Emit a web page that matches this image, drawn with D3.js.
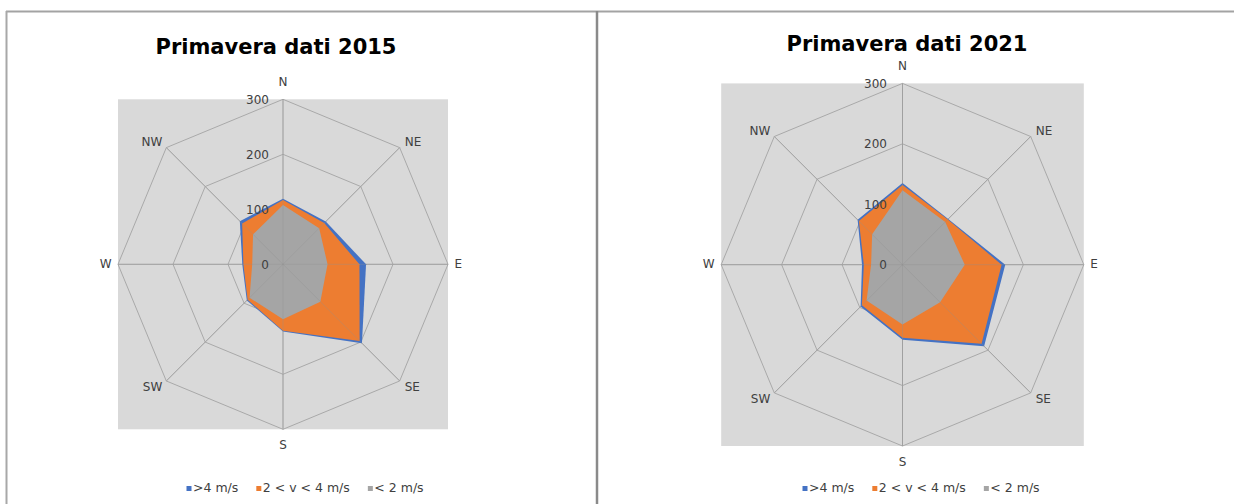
<!DOCTYPE html>
<html>
<head>
<meta charset="utf-8">
<script src="https://cdn.jsdelivr.net/npm/d3@7"></script>
<style>
  html, body { margin: 0; padding: 0; background: #ffffff; }
  svg { display: block; }
  text { font-family: "DejaVu Sans", Verdana, sans-serif; }
</style>
</head>
<body>
<svg id="chart" width="1234" height="504"></svg>
<script>
// Wind directions (categories) and radial tick values
const directions = ["N", "NE", "E", "SE", "S", "SW", "W", "NW"];
const tickValues = [0, 100, 200, 300];
const seriesNames = [">4 m/s", "2 < v < 4 m/s", "< 2 m/s"];
const seriesColors = ["#4472C4", "#ED7D31", "#A5A5A5"];

// Spring 2015: counts per speed class, by direction
const slow2015 = [108, 93, 81, 96, 100, 86, 56, 77];
const mid2015  = [9, 13, 58, 101, 21, 5, 16, 28];
const fast2015 = [2, 4, 12, 6, 1, 2, 2, 6];

// Spring 2021: counts per speed class, by direction
const slow2021 = [123, 100, 103, 88, 99, 84, 52, 71];
const mid2021  = [9, 6, 61, 97, 22, 11, 12, 31];
const fast2021 = [3, 1, 6, 6, 3, 3, 3, 3];

const titles = ["Primavera dati 2015", "Primavera dati 2021"];

const svg = d3.select("#chart");

// Frame lines around the two chart objects
svg.append("line").attr("x1", 6).attr("x2", 1234).attr("y1", 11.5).attr("y2", 11.5)
  .attr("stroke", "#a3a3a3").attr("stroke-width", 2);
svg.append("line").attr("x1", 6.5).attr("x2", 6.5).attr("y1", 11).attr("y2", 504)
  .attr("stroke", "#a8a8a8").attr("stroke-width", 2);
svg.append("line").attr("x1", 597).attr("x2", 597).attr("y1", 11).attr("y2", 504)
  .attr("stroke", "#8a8a8a").attr("stroke-width", 2.5);

function drawRadar(cfg, slow, mid, fast, title) {
  const g = svg.append("g");
  const rows = directions.map((d, i) => ({ dir: d, slow: slow[i], mid: mid[i], fast: fast[i] }));
  const stacked = d3.stack().keys(["slow", "mid", "fast"])(rows);

  const r = d3.scaleLinear().domain([0, 300]).range([0, cfg.R]);
  const angle = d3.scalePoint().domain(directions).range([0, 2 * Math.PI * 7 / 8]);
  const px = (dir, v) => cfg.cx + r(v) * Math.sin(angle(dir));
  const py = (dir, v) => cfg.cy - r(v) * Math.cos(angle(dir));

  // plot area
  g.append("rect")
    .attr("x", cfg.cx - cfg.R).attr("y", cfg.cy - cfg.R)
    .attr("width", 2 * cfg.R).attr("height", 2 * cfg.R)
    .attr("fill", "#d9d9d9");

  // octagonal gridlines
  const ring = d3.lineRadial()
    .angle(d => angle(d.dir))
    .radius(d => r(d.v))
    .curve(d3.curveLinearClosed);
  tickValues.filter(t => t > 0).forEach(t => {
    g.append("path")
      .attr("transform", `translate(${cfg.cx},${cfg.cy})`)
      .attr("d", ring(directions.map(dir => ({ dir, v: t }))))
      .attr("fill", "none").attr("stroke", "#a9a9a9").attr("stroke-width", 1);
  });
  g.append("g").selectAll("line").data(directions).join("line")
    .attr("x1", cfg.cx).attr("y1", cfg.cy)
    .attr("x2", d => px(d, 300)).attr("y2", d => py(d, 300))
    .attr("stroke", "#a9a9a9").attr("stroke-width", 1);

  // filled series: cumulative totals, widest class at the back
  const area = d3.lineRadial()
    .angle((d, i) => angle(directions[i]))
    .radius(d => r(d[1]))
    .curve(d3.curveLinearClosed);
  [2, 1, 0].forEach((k, idx) => {
    g.append("path")
      .attr("transform", `translate(${cfg.cx},${cfg.cy})`)
      .attr("d", area(stacked[k]))
      .attr("fill", seriesColors[idx]);
  });

  // spokes visible across the fills
  g.append("g").selectAll("line").data(directions).join("line")
    .attr("x1", cfg.cx).attr("y1", cfg.cy)
    .attr("x2", d => px(d, 300)).attr("y2", d => py(d, 300))
    .attr("stroke", "#8f8f8f").attr("stroke-width", 1).attr("stroke-opacity", 0.35);

  // radial tick labels
  g.append("g").selectAll("text").data(tickValues).join("text")
    .attr("x", cfg.cx - cfg.tickGap)
    .attr("y", d => cfg.cy - r(d) + 1)
    .attr("text-anchor", "end")
    .attr("dominant-baseline", "middle")
    .attr("font-size", 12)
    .attr("fill", "#404040")
    .text(d => d);

  // direction labels
  g.append("g").selectAll("text").data(directions).join("text")
    .each(function (d) {
      const a = angle(d);
      const sx = Math.round(Math.sin(a) * 1000) / 1000;
      const sy = -Math.round(Math.cos(a) * 1000) / 1000;
      let x = px(d, 300), y = py(d, 300), anchor = "middle";
      if (sx === 0) {
        y += sy * 16.5;
      } else if (sy === 0) {
        x += sx * 6.5;
        anchor = sx > 0 ? "start" : "end";
      } else {
        x += sx > 0 ? 5 : -4;
        y += sy < 0 ? -5 : 6.5;
        anchor = sx > 0 ? "start" : "end";
      }
      d3.select(this)
        .attr("x", x).attr("y", y)
        .attr("text-anchor", anchor)
        .attr("dominant-baseline", "middle");
    })
    .attr("font-size", 12)
    .attr("fill", "#404040")
    .text(d => d);

  // title
  g.append("text")
    .attr("x", cfg.titleX).attr("y", cfg.titleY)
    .attr("text-anchor", "middle")
    .attr("font-size", 21)
    .attr("font-weight", "bold")
    .attr("fill", "#000")
    .text(title);

  // legend
  const lg = g.append("g");
  let x = cfg.legendX;
  seriesNames.forEach((name, i) => {
    lg.append("rect").attr("x", x).attr("y", cfg.legendY - 6)
      .attr("width", 5).attr("height", 5).attr("fill", seriesColors[i]);
    const t = lg.append("text")
      .attr("x", x + 6.5).attr("y", cfg.legendY)
      .attr("font-size", 12.5)
      .attr("fill", "#404040")
      .text(name);
    x += 6.5 + t.node().getComputedTextLength() + 18;
  });
}

drawRadar({ cx: 283, cy: 264.3, R: 165, tickGap: 14, titleX: 276, titleY: 54, legendX: 186.5, legendY: 492 },
  slow2015, mid2015, fast2015, titles[0]);
drawRadar({ cx: 902.5, cy: 264.7, R: 181.3, tickGap: 15.5, titleX: 907, titleY: 51, legendX: 802.5, legendY: 492 },
  slow2021, mid2021, fast2021, titles[1]);
</script>
</body>
</html>
